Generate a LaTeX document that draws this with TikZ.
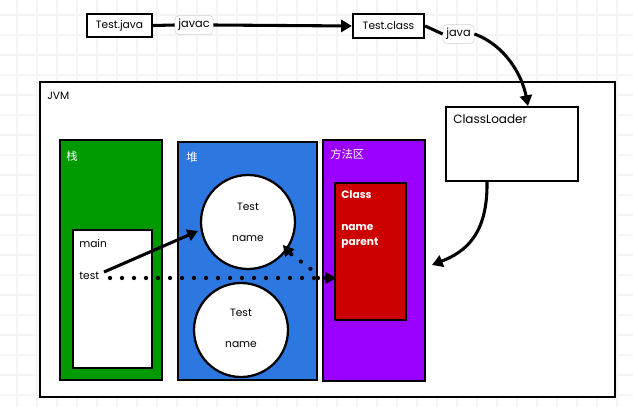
\documentclass[tikz,border=0pt]{standalone}
\usepackage{fontspec}
\setmainfont{Poppins}
\newfontfamily\cjk{Noto Sans CJK SC}
\usetikzlibrary{arrows.meta,shapes.geometric}
\definecolor{gridc}{HTML}{F4F4F4}
\definecolor{stackg}{HTML}{009900}
\definecolor{heapb}{HTML}{2D78E0}
\definecolor{methp}{HTML}{9900FF}
\definecolor{classr}{HTML}{CC0000}
\tikzset{
  box/.style={draw=black, line width=1.7pt, inner sep=0pt, fill=white},
  lbl/.style={draw=gray!35, fill=white, rounded corners=3pt, inner xsep=2.5pt, inner ysep=2.8pt, font=\fontsize{8.5}{9}\selectfont},
  txt/.style={anchor=west, inner sep=0pt, font=\fontsize{8}{9}\selectfont},
  wtxt/.style={txt, text=white},
  ctxt/.style={anchor=center, inner sep=0pt, font=\fontsize{8}{9}\selectfont},
  cjklbl/.style={wtxt, font=\cjk\fontsize{8.5}{9}\selectfont},
  conn/.style={line width=2.3pt, draw=black},
  tip/.style={-{Triangle[length=8pt,width=9pt]}},
  smalltip/.style={-{Triangle[length=8pt,width=9pt]}, line width=0.8pt},
  dotline/.style={line width=3.2pt, line cap=round, dash pattern=on 0pt off 9pt, draw=black},
}
\begin{document}
\begin{tikzpicture}[x=0.75pt,y=-0.75pt]
\useasboundingbox (0,0) rectangle (633,407);
\fill[white] (0,0) rectangle (633,407);
% grid
\foreach \gx in {17,37,...,617} \draw[gridc, line width=0.8pt] (\gx,0) -- (\gx,407);
\foreach \gy in {15,35,...,395} \draw[gridc, line width=0.8pt] (0,\gy) -- (633,\gy);

% top row
\node[box, minimum width=48.75pt, minimum height=17.25pt, font=\fontsize{8}{9}\selectfont] (tj) at (119.5,25.5) {Test.java};
\node[box, minimum width=53.25pt, minimum height=18pt, font=\fontsize{8}{9}\selectfont] (tc) at (388.5,26) {Test.class};
\node[lbl] (javac) at (194,25) {javac};
\node[lbl] (java) at (458.5,34) {java};

% JVM frame
\node[box, minimum width=431.25pt, minimum height=236.25pt] (jvm) at (327.5,239.5) {};
\node[txt] (jvmt) at (47,96) {JVM};

% ClassLoader
\node[box, minimum width=99pt, minimum height=55.5pt] (cl) at (512,144) {};
\node[txt, font=\fontsize{9}{10}\selectfont] (clt) at (453,119) {ClassLoader};

% stack
\node[box, fill=stackg, minimum width=76.5pt, minimum height=180pt] (stack) at (111,260) {};
\node[cjklbl] (stackt) at (66,156) {栈};
\node[box, minimum width=59.25pt, minimum height=103.5pt] (main) at (112.5,299) {};
\node[txt] (maint) at (79,243) {main};
\node[txt] (testv) at (79,276) {test};

% heap
\node[box, fill=heapb, minimum width=104.25pt, minimum height=178.5pt] (heap) at (247.5,261) {};
\node[cjklbl] (heapt) at (186,157) {堆};
\node[box, circle, minimum size=70.5pt] (o1) at (248,222) {};
\node[ctxt] (o1a) at (248,207) {Test};
\node[ctxt] (o1b) at (248,239) {name};
\node[box, circle, minimum size=70.5pt] (o2) at (241,330) {};
\node[ctxt] (o2a) at (241,313) {Test};
\node[ctxt] (o2b) at (241,345) {name};

% method area
\node[box, fill=methp, minimum width=76.5pt, minimum height=180.75pt] (meth) at (374,260.5) {};
\node[cjklbl] (metht) at (330,154) {方法区};
\node[box, fill=classr, minimum width=53.25pt, minimum height=102.75pt] (cls) at (370.5,251.5) {};
\node[wtxt, font=\bfseries\fontsize{8}{9}\selectfont] (clsa) at (341,195) {Class};
\node[wtxt, font=\bfseries\fontsize{8}{9}\selectfont] (clsb) at (341,228) {name};
\node[wtxt, font=\bfseries\fontsize{8}{9}\selectfont] (clsc) at (341,243) {parent};

% coordinates
\coordinate (javaend) at (528,106);
\coordinate (clout) at (487,181);
\coordinate (methin) at (432,265);
\coordinate (teststart) at (104,272);
\coordinate (o1in) at (198,231);
\coordinate (dotstart) at (110,278);
\coordinate (clspre) at (329,278);
\coordinate (clsin) at (336,278);
\coordinate (branch) at (318,278);
\coordinate (namepre) at (288,251);
\coordinate (namein) at (283,245);

% connectors
\draw[conn] (tj.east) -- (javac.west);
\draw[conn, tip] (javac.east) -- (tc.west);
\draw[conn] (tc.east) -- (java.west);
\draw[conn, tip] (java.east) .. controls (505,45) and (522,75) .. (javaend);
\draw[conn, tip] (clout) .. controls (488,235) and (465,252) .. (methin);
\draw[conn, tip] (teststart) -- (o1in);
\draw[dotline] (dotstart) -- (clspre);
\draw[smalltip] (clspre) -- (clsin);
\draw[dotline] (branch) .. controls (312,266) and (298,262) .. (namepre);
\draw[smalltip] (namepre) -- (namein);
\end{tikzpicture}
\end{document}
